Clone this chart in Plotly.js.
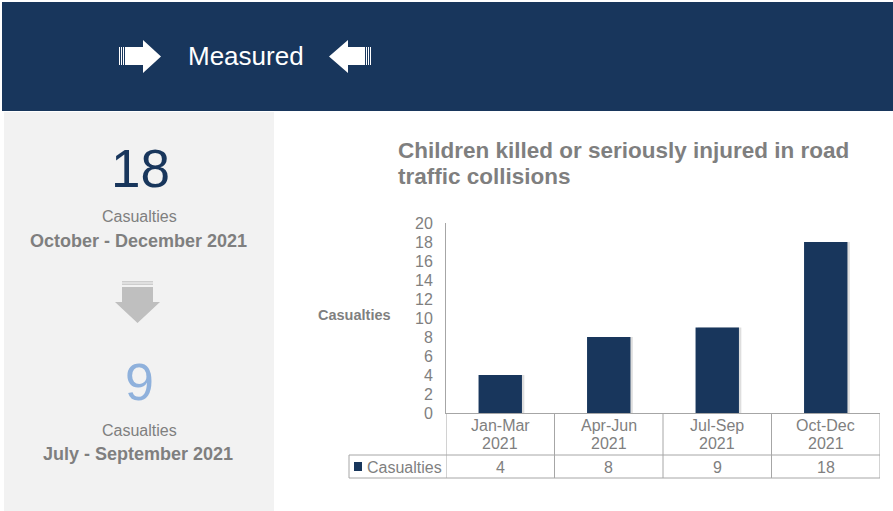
<!DOCTYPE html>
<html>
<head>
<meta charset="utf-8">
<script src="https://cdn.plot.ly/plotly-3.0.1.min.js"></script>
<style>html,body{margin:0;padding:0;background:#fff;}#chart{width:893px;height:511px;}</style>
</head>
<body>
<div id="chart"></div>
<script>
// ---- data ----
const quarters = ['Jan-Mar', 'Apr-Jun', 'Jul-Sep', 'Oct-Dec'];
const years = ['2021', '2021', '2021', '2021'];
const casualties = [4, 8, 9, 18];
const seriesName = 'Casualties';
const yTicks = [0, 2, 4, 6, 8, 10, 12, 14, 16, 18, 20];
const titleLines = ['Children killed or seriously injured in road', 'traffic collisions'];
const latestValue = 18;
const latestPeriod = 'October - December 2021';
const previousValue = 9;
const previousPeriod = 'July - September 2021';

// ---- helpers (pixel -> paper) ----
const W = 893, H = 511;
const X = p => p / W;
const Y = p => 1 - p / H;
const FONT = 'Arial, "Liberation Sans", sans-serif';
const NAVY = '#18365c';
const GREY_TXT = '#7f7f7f';
const LINE = '#a6a6a6';

const labels = quarters.map((q, i) => q + ' ' + years[i]);

const shadow = {
  type: 'bar', x: labels, y: casualties, width: 0.4, offset: -0.2 + 0.022,
  marker: {color: 'rgba(0,0,0,0.13)'}, hoverinfo: 'skip', showlegend: false
};
const trace = {
  type: 'bar', x: labels, y: casualties, name: seriesName,
  width: 0.4, marker: {color: NAVY}, hoverinfo: 'x+y', showlegend: false
};

const shapes = [];
const ann = [];
function txt(x, y, text, size, color, anchor, xref) {
  ann.push({xref: xref || 'paper', yref: 'paper', x: x, y: y, text: text, showarrow: false,
    xanchor: anchor || 'center', yanchor: 'middle', align: anchor || 'center',
    font: {family: FONT, size: size, color: color}});
}
function rect(x0, y0, x1, y1, color) {
  shapes.push({type: 'rect', xref: 'paper', yref: 'paper', x0: X(x0), x1: X(x1), y0: Y(y1), y1: Y(y0), fillcolor: color, line: {width: 0}, layer: 'below'});
}
function pathPx(pts) {
  return 'M' + pts.map(p => X(p[0]) + ',' + Y(p[1])).join(' L') + ' Z';
}

// header band and left panel
rect(2, 2, 893, 111, NAVY);
rect(4, 112, 274, 511, '#f2f2f2');

// header arrows
shapes.push({type: 'path', xref: 'paper', yref: 'paper', path: pathPx([[125, 47], [143, 47], [143, 40], [161, 56.5], [143, 73], [143, 65], [125, 65]]), fillcolor: '#ffffff', line: {width: 0}});
[119, 121, 123].forEach(x => shapes.push({type: 'rect', xref: 'paper', yref: 'paper', x0: X(x), x1: X(x + 1), y0: Y(65), y1: Y(47), fillcolor: '#ffffff', line: {width: 0}}));
shapes.push({type: 'path', xref: 'paper', yref: 'paper', path: pathPx([[365, 47], [348, 47], [348, 40], [329, 56.5], [348, 73], [348, 65], [365, 65]]), fillcolor: '#ffffff', line: {width: 0}});
[366, 368, 370].forEach(x => shapes.push({type: 'rect', xref: 'paper', yref: 'paper', x0: X(x), x1: X(x + 1), y0: Y(65), y1: Y(47), fillcolor: '#ffffff', line: {width: 0}}));
txt(X(245.5), Y(56), 'Measured', 26, '#ffffff');

// left panel texts
txt(X(140), Y(168), String(latestValue), 53, NAVY);
txt(X(139), Y(216), 'Casualties', 16, GREY_TXT);
txt(X(138), Y(241), '<b>' + latestPeriod + '</b>', 18, GREY_TXT);
// down arrow
shapes.push({type: 'path', xref: 'paper', yref: 'paper', path: pathPx([[122, 287], [153, 287], [153, 302], [160, 302], [137.5, 323], [115, 302], [122, 302]]), fillcolor: '#bfbfbf', line: {width: 0}});
[281, 283.5].forEach(y => shapes.push({type: 'rect', xref: 'paper', yref: 'paper', x0: X(122), x1: X(153), y0: Y(y + 1.5), y1: Y(y), fillcolor: '#cdcdcd', line: {width: 0}}));
txt(X(139), Y(382), String(previousValue), 52, '#8fb1dc');
txt(X(139), Y(430), 'Casualties', 16, GREY_TXT);
txt(X(138), Y(454), '<b>' + previousPeriod + '</b>', 18, GREY_TXT);

// chart title
txt(X(396), Y(150), '<b>' + titleLines[0] + '</b>', 22.5, GREY_TXT, 'left');
txt(X(396), Y(176), '<b>' + titleLines[1] + '</b>', 22.5, GREY_TXT, 'left');
// y axis title
txt(X(354.5), Y(315), '<b>' + seriesName + '</b>', 14.5, GREY_TXT);

// data table grid
const tTop = 413, tMid = 455, tBot = 478;
for (let i = 0; i <= quarters.length; i++) {
  shapes.push({type: 'line', xref: 'x', yref: 'paper', x0: i - 0.5, x1: i - 0.5, y0: Y(tTop), y1: Y(tBot), line: {color: LINE, width: 1}});
}
shapes.push({type: 'line', xref: 'paper', yref: 'paper', x0: X(349), x1: X(880), y0: Y(tMid), y1: Y(tMid), line: {color: LINE, width: 1}});
shapes.push({type: 'line', xref: 'paper', yref: 'paper', x0: X(349), x1: X(880), y0: Y(tBot), y1: Y(tBot), line: {color: LINE, width: 1}});
shapes.push({type: 'line', xref: 'paper', yref: 'paper', x0: X(349), x1: X(349), y0: Y(tMid), y1: Y(tBot), line: {color: LINE, width: 1}});
// legend key
shapes.push({type: 'rect', xref: 'paper', yref: 'paper', x0: X(354), x1: X(362), y0: Y(471), y1: Y(462), fillcolor: NAVY, line: {width: 0}});
txt(X(364.5), Y(467), seriesName, 16, GREY_TXT, 'left');
// category labels (two lines) and table values
labels.forEach((lab, i) => {
  txt(lab, Y(425), quarters[i], 16, GREY_TXT, 'center', 'x');
  txt(lab, Y(443), years[i], 16, GREY_TXT, 'center', 'x');
  txt(lab, Y(467), String(casualties[i]), 16, GREY_TXT, 'center', 'x');
});

const layout = {
  width: W, height: H,
  margin: {l: 0, r: 0, t: 0, b: 0, pad: 0},
  paper_bgcolor: '#ffffff', plot_bgcolor: 'rgba(0,0,0,0)',
  showlegend: false, barmode: 'overlay',
  font: {family: FONT, color: GREY_TXT},
  xaxis: {
    domain: [X(446), X(880)], type: 'category', range: [-0.5, 3.5],
    showline: true, linecolor: LINE, linewidth: 1, showgrid: false, zeroline: false,
    ticks: '', showticklabels: false, fixedrange: true
  },
  yaxis: {
    domain: [Y(413), Y(223)], range: [0, 20], tickvals: yTicks,
    showline: true, linecolor: LINE, linewidth: 1, showgrid: false, zeroline: false,
    ticks: '', ticklabelstandoff: 9, tickfont: {family: FONT, size: 16, color: GREY_TXT}, fixedrange: true
  },
  shapes: shapes,
  annotations: ann
};

Plotly.newPlot('chart', [shadow, trace], layout, {displayModeBar: false, staticPlot: true});
</script>
</body>
</html>
